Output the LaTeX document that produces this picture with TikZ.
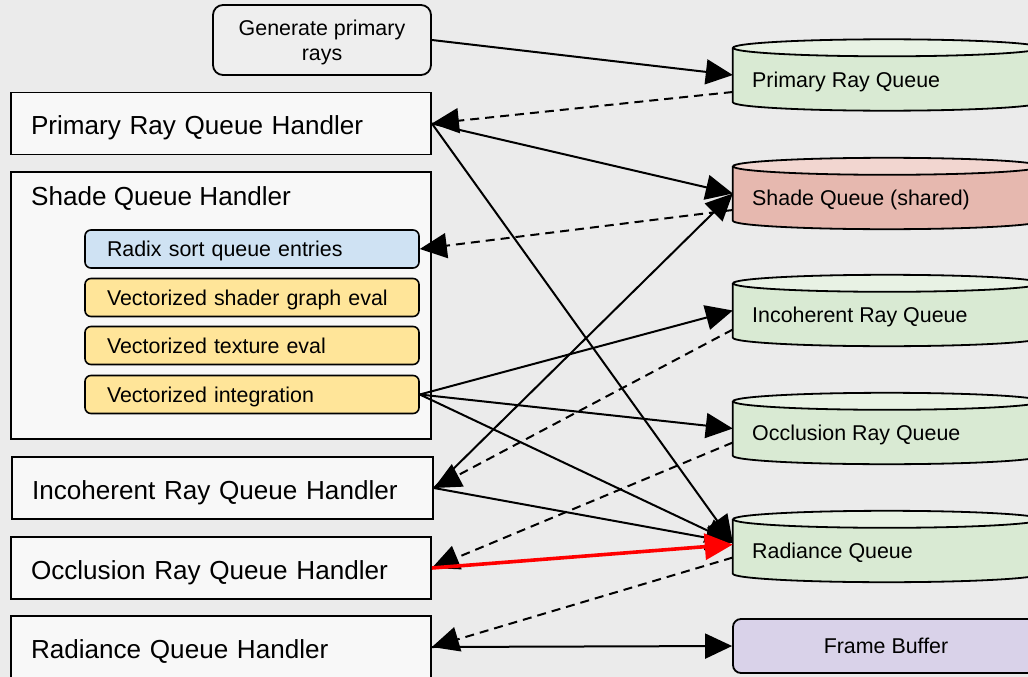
\documentclass[tikz,border=0pt]{standalone}
\usepackage{fontspec}
\setmainfont{Liberation Sans}
\usetikzlibrary{arrows.meta}
\definecolor{bgc}{HTML}{EBEBEB}
\definecolor{hfill}{HTML}{F8F8F8}
\definecolor{gfill}{HTML}{EEEEEE}
\definecolor{bluef}{HTML}{CFE2F3}
\definecolor{yelf}{HTML}{FFE599}
\definecolor{greenf}{HTML}{D9EAD3}
\definecolor{greent}{HTML}{E8F2E4}
\definecolor{redf}{HTML}{E6B8AF}
\definecolor{redt}{HTML}{F2D6D0}
\definecolor{lavf}{HTML}{D9D2E9}
\newcommand\fsmall{\fontsize{21.4}{25}\selectfont}
\newcommand\fbig{\fontsize{26.1}{31}\selectfont}
\newcommand\qcyl[3]{%
  \fill[#2] (#1.north west) -- (#1.south west)
    arc[start angle=180,end angle=360,x radius=154pt,y radius=8.5pt]
    -- (#1.north east)
    arc[start angle=0,end angle=180,x radius=154pt,y radius=8.5pt] -- cycle;
  \fill[#3] (#1.north) ellipse[x radius=154pt,y radius=8.5pt];
  \draw[outl] (#1.north west) -- (#1.south west)
    arc[start angle=180,end angle=360,x radius=154pt,y radius=8.5pt]
    -- (#1.north east);
  \draw[outl] (#1.north) ellipse[x radius=154pt,y radius=8.5pt];
}
\begin{document}
\begin{tikzpicture}[x=1pt,y=-1pt,
  outl/.style={draw=black,line width=1.8pt},
  hbox/.style={draw=black,line width=1.8pt,fill=hfill,text width=380pt,inner xsep=20pt,inner ysep=0pt,align=left,minimum height=62pt,text height=28pt,text depth=6pt,font=\fbig},
  sbox/.style={draw=black,line width=1.6pt,rounded corners=6pt,text width=290pt,inner xsep=22pt,inner ysep=0pt,align=left,minimum height=38pt,text height=20pt,text depth=4.6pt,font=\fsmall},
  cylb/.style={rectangle,minimum width=308pt,minimum height=54pt,inner sep=0pt},
  qtxt/.style={anchor=base west,font=\fsmall,inner sep=0pt},
  arr/.style={line width=2pt,-{Triangle[length=27pt,width=25pt]}},
  darr/.style={arr,dash pattern=on 9pt off 6pt},
  redarr/.style={line width=3.6pt,draw=red,-{Triangle[length=28pt,width=26pt,fill=red]}}
]
\useasboundingbox (0,0) rectangle (1028,677);
\fill[bgc] (0,0) rectangle (1028,677);
\clip (0,0) rectangle (1028,677);

% left column
\node[draw=black,line width=1.8pt,rounded corners=10pt,fill=gfill,minimum width=218pt,minimum height=70pt,align=center,font=\fsmall,inner sep=0pt,text depth=0pt] (gen) at (322,40) {Generate primary\\rays};
\node[hbox] (prh) at (221,123.5) {Primary Ray Queue Handler};
\node[hbox,minimum height=267pt,text height=0pt,text depth=0pt] (shh) at (221,305.5) {};
\node[anchor=base west,font=\fbig,inner sep=0pt] (shtitle) at (31,205) {Shade Queue Handler};
\node[sbox,fill=bluef] (radix) at (252,249) {Radix sort queue entries};
\node[sbox,fill=yelf] (vsg) at (252,297.5) {Vectorized shader graph eval};
\node[sbox,fill=yelf] (vte) at (252,345.5) {Vectorized texture eval};
\node[sbox,fill=yelf] (vin) at (252,394.5) {Vectorized integration};
\node[hbox,text width=381pt] (ich) at (222.5,488) {Incoherent Ray Queue Handler};
\node[hbox] (och) at (221,568) {Occlusion Ray Queue Handler};
\node[hbox] (rqh) at (221,647) {Radiance Queue Handler};

% right column: queues
\node[cylb] (prq) at (887,75) {};
\node[cylb] (sq) at (887,193.5) {};
\node[cylb] (irq) at (887,310.5) {};
\node[cylb] (orq) at (887,428.5) {};
\node[cylb] (raq) at (887,546.5) {};
\qcyl{prq}{greenf}{greent}
\qcyl{sq}{redf}{redt}
\qcyl{irq}{greenf}{greent}
\qcyl{orq}{greenf}{greent}
\qcyl{raq}{greenf}{greent}
\node[qtxt] (prqt) at (752,88) {Primary Ray Queue};
\node[qtxt] (sqt) at (752,205.5) {Shade Queue (shared)};
\node[qtxt] (irqt) at (752,322.5) {Incoherent Ray Queue};
\node[qtxt] (orqt) at (752,440.5) {Occlusion Ray Queue};
\node[qtxt] (raqt) at (752,558.5) {Radiance Queue};
\node[draw=black,line width=1.8pt,rounded corners=8pt,fill=lavf,minimum width=306pt,minimum height=54pt,font=\fsmall,inner sep=0pt] (fb) at (886,646) {Frame Buffer};

% connectors
\draw[arr] (gen.east) -- (prq.west);
\draw[darr] ([yshift=-17pt]prq.west) -- (prh.east);
\draw[arr] (prh.east) -- (sq.west);
\draw[arr] (prh.east) -- ([yshift=4pt]raq.west);
\draw[darr] ([yshift=-16.5pt]sq.west) -- (radix.east);
\draw[arr] (ich.east) -- (sq.west);
\draw[arr] (vin.east) -- (irq.west);
\draw[arr] (vin.east) -- (orq.west);
\draw[arr] (vin.east) -- ([yshift=4pt]raq.west);
\draw[darr] ([yshift=-19pt]irq.west) -- (ich.east);
\draw[darr] ([yshift=-14pt]orq.west) -- (och.east);
\draw[arr] (ich.east) -- ([yshift=4pt]raq.west);
\draw[redarr] (och.east) -- ([yshift=2pt]raq.west);
\draw[darr] ([yshift=-11pt]raq.west) -- (rqh.east);
\draw[arr] (rqh.east) -- (fb.west);
\end{tikzpicture}
\end{document}
